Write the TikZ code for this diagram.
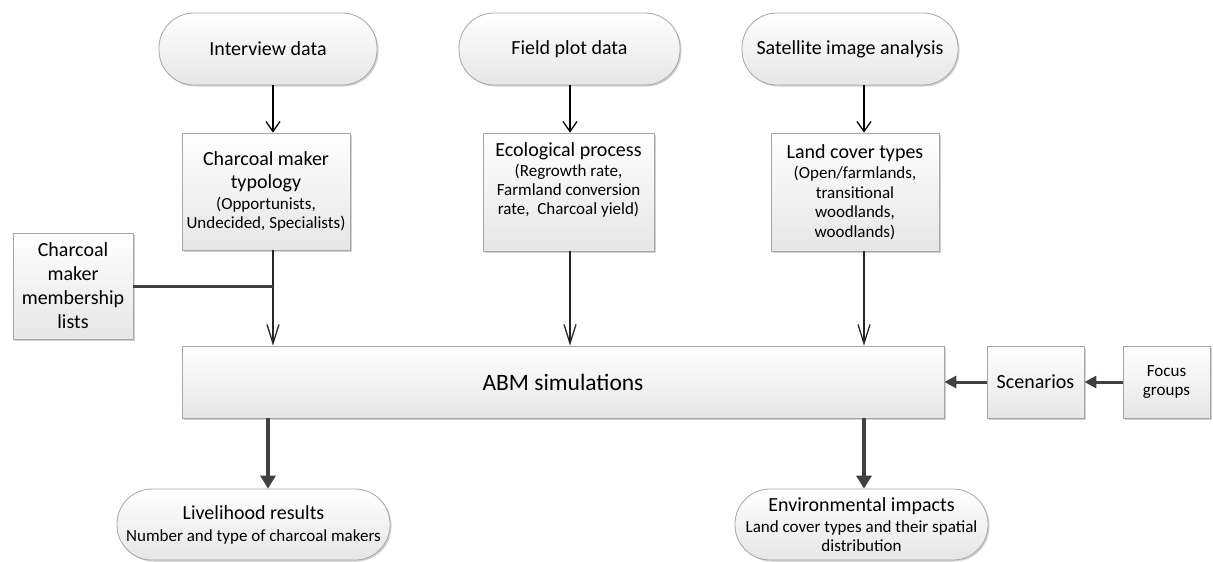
\documentclass[tikz,border=0pt]{standalone}
\usepackage{fontspec}
\setmainfont{Carlito}
\usepackage{xcolor}
\usepackage{tikz}
\usetikzlibrary{
  arrows.meta,
  positioning,
  shadows,
  calc
}
\definecolor{edgegrey}{HTML}{A6A6A6}
\definecolor{fillgrey}{HTML}{E6E6E6}
\definecolor{darkline}{HTML}{404040}
\newcommand{\bigtxt}{\fontsize{20}{23}\selectfont}
\newcommand{\smalltxt}{\fontsize{17}{19.5}\selectfont}
\tikzset{
  basebox/.style={
    rectangle, draw=edgegrey, line width=0.8pt,
    top color=white, bottom color=fillgrey,
    align=center, inner sep=2pt, font=\bigtxt,
    drop shadow={shadow xshift=1.5pt, shadow yshift=-1.5pt, opacity=0.3, fill=black!60}
  },
  termbox/.style={
    basebox, rounded corners=35pt,
    minimum width=#1, minimum height=72pt
  },
  procbox/.style={
    basebox, minimum width=#1
  },
  thinarrow/.style={
    -{Straight Barb[length=10pt,width=14pt]}, line width=1.3pt, color=black
  },
  longarrow/.style={
    -{Straight Barb[length=19pt,width=12pt]}, line width=1.3pt, color=black!85
  },
  thickarrow/.style={
    -{Triangle[length=13pt,width=15pt]}, line width=4pt, color=darkline
  },
  sidearrow/.style={
    -{Triangle[length=12pt,width=12pt]}, line width=3pt, color=darkline
  },
}

\begin{document}
\begin{tikzpicture}[x=1pt,y=1pt]
  \useasboundingbox (0,0) rectangle (1213,-562);

  % data sources
  \node[termbox=218pt] (interview) at (268,-49) {Interview data};
  \node[termbox=221pt] (field) at (569.5,-49) {Field plot data};
  \node[termbox=216pt] (satellite) at (850,-49) {Satellite image analysis};

  % derived inputs
  \node[procbox=168pt, minimum height=117pt] (typology) at (266,-191.5)
    {Charcoal maker\\typology\\[-2pt]{\smalltxt(Opportunists,}\\[-4pt]{\smalltxt Undecided, Specialists)}};
  \node[procbox=171pt, minimum height=118pt] (ecology) at (568.5,-192)
    {Ecological process\\[-3pt]{\smalltxt(Regrowth rate,}\\[-4pt]{\smalltxt Farmland conversion}\\[-4pt]{\smalltxt rate,\ \ Charcoal yield)}\\[4pt]};
  \node[procbox=168pt, minimum height=118pt] (landcover) at (855,-192)
    {Land cover types\\[-3pt]{\smalltxt(Open/farmlands,}\\[-3.5pt]{\smalltxt transitional}\\[-3.5pt]{\smalltxt woodlands,}\\[-3.5pt]{\smalltxt woodlands)}};
  \node[procbox=120pt, minimum height=106pt, font=\fontsize{20}{24}\selectfont] (members) at (73,-286)
    {Charcoal\\maker\\membership\\lists};

  % model
  \node[procbox=762pt, minimum height=72pt, font=\fontsize{23.5}{27}\selectfont] (abm) at (563,-382) {ABM simulations};
  \node[procbox=97pt, minimum height=72pt] (scenarios) at (1035.5,-382) {Scenarios};
  \node[procbox=87pt, minimum height=72pt, font=\smalltxt] (focus) at (1166.5,-382) {Focus\\groups};

  % outputs
  \node[termbox=273pt, minimum height=71pt] (livelihood) at (253.5,-524.5)
    {Livelihood results\\[-1pt]{\smalltxt Number and type of charcoal makers}};
  \node[termbox=253pt, minimum height=71pt] (environment) at (861.5,-524.5)
    {Environmental impacts\\[-2pt]{\smalltxt Land cover types and their spatial}\\[-4pt]{\smalltxt distribution}};

  % columns of the connectors
  \coordinate (colA) at (273,0);
  \coordinate (colB) at (570,0);
  \coordinate (colC) at (864,0);
  \coordinate (colD) at (268,0);

  \draw[thinarrow] (interview.south -| colA) -- (typology.north -| colA);
  \draw[thinarrow] (field.south -| colB) -- (ecology.north -| colB);
  \draw[thinarrow] (satellite.south -| colC) -- (landcover.north -| colC);

  \draw[longarrow] (typology.south -| colA) -- (abm.north -| colA);
  \draw[longarrow] (ecology.south -| colB) -- (abm.north -| colB);
  \draw[longarrow] (landcover.south -| colC) -- (abm.north -| colC);
  \draw[line width=3pt, color=darkline] (members.east) -- (members.east -| colA);

  \draw[sidearrow] (focus.west) -- (scenarios.east);
  \draw[sidearrow] (scenarios.west) -- (abm.east);

  \draw[thickarrow] (abm.south -| colD) -- (livelihood.north -| colD);
  \draw[thickarrow] (abm.south -| colC) -- (environment.north -| colC);
\end{tikzpicture}
\end{document}
